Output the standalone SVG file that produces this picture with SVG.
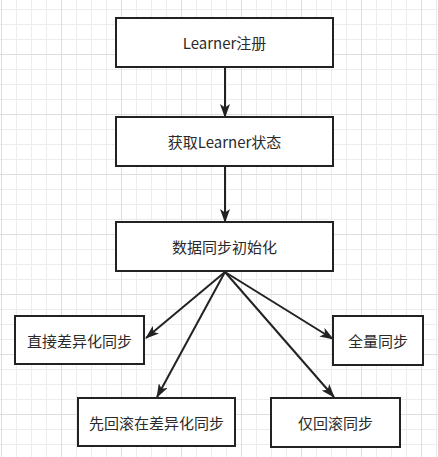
<svg xmlns="http://www.w3.org/2000/svg" width="438" height="457" viewBox="0 0 438 457">
<defs>
<pattern id="minor" width="15" height="15" patternUnits="userSpaceOnUse" x="1" y="9">
<path d="M0.5 0V15M0 0.5H15" fill="none" stroke="#ececec" stroke-width="1"/>
</pattern>
<pattern id="major" width="60" height="60" patternUnits="userSpaceOnUse" x="1" y="54">
<path d="M0.5 0V60M0 0.5H60" fill="none" stroke="#dedede" stroke-width="1"/>
</pattern>
<marker id="arr" viewBox="0 0 14 10" refX="13" refY="5" markerWidth="14" markerHeight="10" markerUnits="userSpaceOnUse" orient="auto">
<path d="M0 0L14 5L0 10L3.5 5Z" fill="#222"/>
</marker>
<style>
.box{fill:#fff;stroke:#222;stroke-width:2}
.lbl{font-family:"Noto Sans CJK SC","Liberation Sans",sans-serif;font-size:15px;fill:#2a2a2a;text-anchor:middle;dominant-baseline:central}
.edge{fill:none;stroke:#222;stroke-width:2;marker-end:url(#arr)}
</style>
</defs>
<rect width="438" height="457" fill="#fff"/>
<rect width="438" height="457" fill="url(#minor)"/>
<rect width="438" height="457" fill="url(#major)"/>
<g id="connectors">
<path class="edge" d="M225 67V117"/>
<path class="edge" d="M225 166V222"/>
<path class="edge" d="M225 272L146 338"/>
<path class="edge" d="M225 272L157 397"/>
<path class="edge" d="M225 272L333 339"/>
<path class="edge" d="M225 272L334 397"/>
</g>
<g id="n1"><rect class="box" x="116" y="18" width="217" height="49"/><text class="lbl" x="224.5" y="42.5">Learner注册</text></g>
<g id="n2"><rect class="box" x="116" y="117" width="217" height="49"/><text class="lbl" x="224.5" y="141.5">获取Learner状态</text></g>
<g id="n3"><rect class="box" x="116" y="222" width="217" height="49"/><text class="lbl" x="224.5" y="246.5">数据同步初始化</text></g>
<g id="n4"><rect class="box" x="15" y="316" width="129" height="48"/><text class="lbl" x="79.5" y="340">直接差异化同步</text></g>
<g id="n5"><rect class="box" x="333" y="316" width="90" height="49"/><text class="lbl" x="378" y="340.5">全量同步</text></g>
<g id="n6"><rect class="box" x="78" y="398" width="157" height="48"/><text class="lbl" x="156.5" y="422">先回滚在差异化同步</text></g>
<g id="n7"><rect class="box" x="271" y="398" width="129" height="49"/><text class="lbl" x="335.5" y="422.5">仅回滚同步</text></g>
</svg>
